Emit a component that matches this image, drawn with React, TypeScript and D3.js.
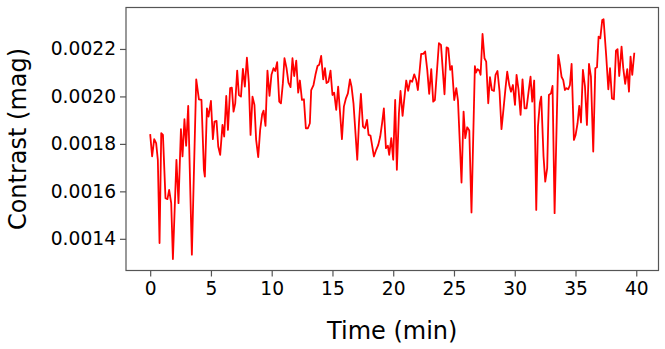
import React, { useEffect, useRef } from 'react';
import * as d3 from 'd3';

// time in minutes
const times = [
  0.0, 0.16, 0.33, 0.49, 0.63, 0.77, 0.91, 1.05, 1.26, 1.42, 1.56, 1.73, 1.87, 2.16, 2.33, 2.53, 2.66, 2.82, 2.96, 3.13,
  3.43, 3.79, 4.01, 4.22, 4.42, 4.5, 4.67, 4.8, 5.0, 5.16, 5.29, 5.46, 5.6, 5.76, 5.95, 6.09, 6.26, 6.4, 6.58, 6.72,
  6.86, 7.0, 7.16, 7.3, 7.47, 7.63, 7.79, 7.96, 8.12, 8.26, 8.42, 8.58, 8.72, 8.89, 9.05, 9.22, 9.33, 9.49, 9.65, 9.82,
  9.98, 10.15, 10.29, 10.45, 10.62, 10.76, 10.92, 11.05, 11.22, 11.38, 11.55, 11.71, 11.85, 12.02, 12.18, 12.32, 12.49, 12.65, 12.81, 12.98,
  13.14, 13.25, 13.44, 13.6, 13.77, 13.91, 14.07, 14.24, 14.38, 14.51, 14.67, 14.84, 15.0, 15.14, 15.31, 15.47, 15.78, 15.94, 16.11, 16.27,
  16.44, 16.57, 16.73, 17.04, 17.18, 17.34, 17.51, 17.67, 17.84, 17.97, 18.13, 18.41, 18.6, 18.77, 18.93, 19.09, 19.23, 19.4, 19.56, 19.67,
  19.84, 20.0, 20.16, 20.3, 20.47, 20.6, 20.77, 20.93, 21.07, 21.23, 21.4, 21.56, 21.73, 21.89, 22.03, 22.3, 22.47, 22.63, 22.8, 22.96,
  23.13, 23.29, 23.43, 23.76, 23.93, 24.22, 24.39, 24.53, 24.69, 24.83, 25.02, 25.19, 25.33, 25.62, 25.79, 25.93, 26.09, 26.26, 26.44, 26.72,
  26.81, 26.94, 27.08, 27.19, 27.35, 27.51, 27.65, 27.82, 27.96, 28.12, 28.29, 28.42, 28.58, 28.75, 28.91, 29.08, 29.24, 29.38, 29.55, 29.69,
  29.85, 30.02, 30.15, 30.31, 30.48, 30.64, 30.81, 30.97, 31.14, 31.3, 31.44, 31.6, 31.77, 31.91, 32.07, 32.18, 32.37, 32.51, 32.67, 32.81,
  32.98, 33.11, 33.28, 33.58, 33.72, 33.85, 33.99, 34.13, 34.26, 34.4, 34.54, 34.68, 34.87, 35.01, 35.17, 35.31, 35.45, 35.61, 35.78, 35.94,
  36.11, 36.27, 36.46, 36.63, 36.77, 36.9, 37.04, 37.2, 37.31, 37.53, 37.7, 37.84, 38.0, 38.16, 38.33, 38.46, 38.6, 38.79, 38.93, 39.09,
  39.26, 39.4, 39.53, 39.67, 39.84,
];

// contrast in mag
const contrast = [
  0.001841, 0.001747, 0.00182, 0.001803, 0.001733, 0.001382, 0.001845, 0.001838, 0.001571, 0.001567,
  0.001606, 0.00155, 0.001315, 0.001733, 0.00155, 0.001862, 0.001747, 0.001904, 0.001792, 0.00196,
  0.001333, 0.002072, 0.001988, 0.001985, 0.001691, 0.001662, 0.00195, 0.001915, 0.001981, 0.00182,
  0.001894, 0.001897, 0.001789, 0.001754, 0.00188, 0.001831, 0.002002, 0.001859, 0.002035, 0.002037,
  0.001936, 0.001971, 0.002109, 0.002006, 0.001999, 0.002116, 0.002041, 0.002163, 0.002056, 0.001838,
  0.001999, 0.001964, 0.001817, 0.001744, 0.001859, 0.001926, 0.00194, 0.001876, 0.002109, 0.002002,
  0.002091, 0.002119, 0.002107, 0.002144, 0.001978, 0.001971, 0.002056, 0.002161, 0.002119, 0.002058,
  0.002039, 0.002161, 0.002086, 0.002151, 0.002016, 0.002067, 0.001985, 0.001988, 0.001866, 0.001866,
  0.001887, 0.002027, 0.002048, 0.002091, 0.002128, 0.002133, 0.002171, 0.002072, 0.002119, 0.002056,
  0.002062, 0.002109, 0.002006, 0.002016, 0.001943, 0.002041, 0.00182, 0.001957, 0.001992, 0.002013,
  0.002072, 0.002041, 0.001971, 0.001733, 0.001887, 0.002011, 0.001873, 0.001866, 0.001901, 0.001838,
  0.001835, 0.001747, 0.001775, 0.001796, 0.001831, 0.00189, 0.00195, 0.001782, 0.001792, 0.001754,
  0.001824, 0.001733, 0.001985, 0.001691, 0.001929, 0.002023, 0.001918, 0.001999, 0.002067, 0.002024,
  0.002067, 0.002062, 0.002093, 0.002069, 0.002027, 0.002179, 0.002179, 0.002189, 0.002112, 0.002011,
  0.002115, 0.001978, 0.001985, 0.002224, 0.002217, 0.002009, 0.002207, 0.002203, 0.002112, 0.002128,
  0.001985, 0.002035, 0.001982, 0.001637, 0.001936, 0.001824, 0.00187, 0.001856, 0.001511, 0.002128,
  0.0021, 0.002115, 0.002109, 0.002091, 0.002263, 0.002161, 0.002147, 0.001971, 0.002081, 0.002027,
  0.002023, 0.002091, 0.002107, 0.00202, 0.001862, 0.00195, 0.002035, 0.002104, 0.002048, 0.00202,
  0.002048, 0.001964, 0.002091, 0.00203, 0.001922, 0.002072, 0.00195, 0.00195, 0.00202, 0.002083,
  0.001978, 0.002067, 0.001522, 0.001873, 0.001974, 0.001999, 0.001747, 0.001641, 0.001698, 0.002006,
  0.002013, 0.002044, 0.001508, 0.002175, 0.002133, 0.002083, 0.002069, 0.002027, 0.002035, 0.00203,
  0.002048, 0.002137, 0.001817, 0.001838, 0.001887, 0.00196, 0.00189, 0.002112, 0.002041, 0.00188,
  0.002137, 0.002083, 0.001768, 0.002119, 0.002123, 0.002252, 0.002245, 0.002322, 0.002325, 0.002168,
  0.00203, 0.002119, 0.001992, 0.001988, 0.002193, 0.002199, 0.002086, 0.00221, 0.002119, 0.002053,
  0.002115, 0.00202, 0.002168, 0.002091, 0.002184,
];

const xTicks = [0, 5, 10, 15, 20, 25, 30, 35, 40];
const yTicks = [0.0014, 0.0016, 0.0018, 0.002, 0.0022];

const ContrastChart = () => {
  const svgRef = useRef<SVGSVGElement>(null);

  useEffect(() => {
    const width = 665;
    const height = 349;
    const plot = { left: 126, right: 658.5, top: 7.5, bottom: 270.5 };
    const font = 'DejaVu Sans';
    const frameColor = '#555';

    svgRef.current!.innerHTML = '';

    const svg = d3.select(svgRef.current)
      .attr('width', width)
      .attr('height', height);

    svg.append('rect')
      .attr('width', width)
      .attr('height', height)
      .attr('fill', '#fff');

    const xScale = d3.scaleLinear()
      .domain([-1.99, 41.83])
      .range([plot.left, plot.right]);

    const yScale = d3.scaleLinear()
      .domain([0.0012665, 0.0023747])
      .range([plot.bottom, plot.top]);

    const data = times.map((t, i) => ({ t, v: contrast[i] }));

    const line = d3.line<{ t: number; v: number }>()
      .x(d => xScale(d.t))
      .y(d => yScale(d.v));

    svg.append('path')
      .datum(data)
      .attr('d', line)
      .attr('fill', 'none')
      .attr('stroke', '#ff0000')
      .attr('stroke-width', 1.8)
      .attr('stroke-linejoin', 'round');

    // x axis
    const xAxis = svg.append('g')
      .attr('transform', `translate(0,${plot.bottom})`)
      .call(d3.axisBottom(xScale).tickValues(xTicks).tickSize(6).tickPadding(5).tickFormat(d3.format('d')));
    xAxis.select('.domain').remove();
    xAxis.selectAll('line').attr('stroke', frameColor).attr('stroke-width', 1.2);
    xAxis.selectAll('text')
      .attr('font-family', font)
      .attr('font-size', 18.67)
      .attr('fill', '#000');

    // y axis
    const yAxis = svg.append('g')
      .attr('transform', `translate(${plot.left},0)`)
      .call(d3.axisLeft(yScale).tickValues(yTicks).tickSize(6).tickPadding(4).tickFormat(d3.format('.4f')));
    yAxis.select('.domain').remove();
    yAxis.selectAll('line').attr('stroke', frameColor).attr('stroke-width', 1.2);
    yAxis.selectAll('text')
      .attr('font-family', font)
      .attr('font-size', 18.67)
      .attr('fill', '#000');

    // frame
    svg.append('rect')
      .attr('x', plot.left)
      .attr('y', plot.top)
      .attr('width', plot.right - plot.left)
      .attr('height', plot.bottom - plot.top)
      .attr('fill', 'none')
      .attr('stroke', frameColor)
      .attr('stroke-width', 1.2);

    svg.append('text')
      .attr('x', (plot.left + plot.right) / 2)
      .attr('y', 339)
      .attr('text-anchor', 'middle')
      .attr('font-family', font)
      .attr('font-size', 24)
      .text('Time (min)');

    svg.append('text')
      .attr('transform', `translate(26,${(plot.top + plot.bottom) / 2}) rotate(-90)`)
      .attr('text-anchor', 'middle')
      .attr('font-family', font)
      .attr('font-size', 24)
      .text('Contrast (mag)');
  }, []);

  return <svg ref={svgRef} style={{ position: 'absolute', left: 0, top: 0, display: 'block' }}></svg>;
};

export default function App() {
  return <ContrastChart />;
}
